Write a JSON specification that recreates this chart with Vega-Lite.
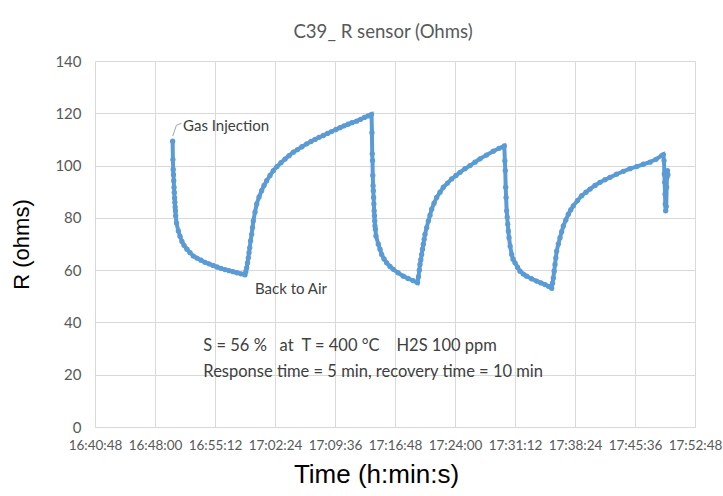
{
  "$schema": "https://vega.github.io/schema/vega-lite/v6.json",
  "width": 600,
  "height": 366,
  "autosize": {"type": "none"},
  "padding": {"left": 95, "top": 61, "right": 28, "bottom": 69},
  "background": "white",
  "title": {"text": "C39_ R sensor (Ohms)", "font": "Lato", "fontSize": 18.6, "fontWeight": "normal", "color": "#595959", "offset": 12, "dx": -12},
  "config": {"view": {"stroke": null}},
  "data": {
    "format": {"parse": {"time": "utc:'%H:%M:%S'"}},
    "values": [
      {"time": "16:50:07", "value": 109.3}, {"time": "16:50:09", "value": 102.3}, {"time": "16:50:11", "value": 98.5}, {"time": "16:50:13", "value": 96.5},
      {"time": "16:50:15", "value": 94.2}, {"time": "16:50:17", "value": 91.7}, {"time": "16:50:19", "value": 89.7}, {"time": "16:50:21", "value": 87.6},
      {"time": "16:50:23", "value": 85.9}, {"time": "16:50:25", "value": 84.2}, {"time": "16:50:27", "value": 82.7}, {"time": "16:50:29", "value": 80.8},
      {"time": "16:50:35", "value": 78}, {"time": "16:50:48", "value": 75}, {"time": "16:51:00", "value": 73}, {"time": "16:51:14", "value": 71},
      {"time": "16:51:29", "value": 69.5}, {"time": "16:51:50", "value": 68}, {"time": "16:52:12", "value": 66.7}, {"time": "16:52:36", "value": 65.4},
      {"time": "16:53:02", "value": 64.6}, {"time": "16:53:31", "value": 63.8}, {"time": "16:54:00", "value": 63}, {"time": "16:54:29", "value": 62.4},
      {"time": "16:54:58", "value": 61.8}, {"time": "16:55:26", "value": 61.2}, {"time": "16:55:55", "value": 60.7}, {"time": "16:56:24", "value": 60.2},
      {"time": "16:56:53", "value": 59.8}, {"time": "16:57:22", "value": 59.4}, {"time": "16:57:50", "value": 59}, {"time": "16:58:19", "value": 58.6},
      {"time": "16:58:48", "value": 58.2},
      {"time": "16:58:54", "value": 59.5}, {"time": "16:59:00", "value": 60.9}, {"time": "16:59:06", "value": 62.8}, {"time": "16:59:12", "value": 64.7},
      {"time": "16:59:17", "value": 66.7}, {"time": "16:59:22", "value": 68.6}, {"time": "16:59:28", "value": 71.2}, {"time": "16:59:36", "value": 73.7},
      {"time": "16:59:42", "value": 76.3}, {"time": "16:59:48", "value": 78.8}, {"time": "17:00:00", "value": 82.2}, {"time": "17:00:12", "value": 85.3},
      {"time": "17:00:29", "value": 88}, {"time": "17:00:48", "value": 90.4}, {"time": "17:01:05", "value": 92.4}, {"time": "17:01:24", "value": 94.2},
      {"time": "17:01:48", "value": 96.2}, {"time": "17:02:12", "value": 98.1}, {"time": "17:02:38", "value": 99.6}, {"time": "17:03:07", "value": 101.1},
      {"time": "17:03:36", "value": 102.5}, {"time": "17:04:05", "value": 103.8}, {"time": "17:04:36", "value": 105.1}, {"time": "17:05:06", "value": 106.1},
      {"time": "17:05:38", "value": 107.2}, {"time": "17:06:12", "value": 108.3}, {"time": "17:06:43", "value": 109.2}, {"time": "17:07:12", "value": 110},
      {"time": "17:07:41", "value": 110.8}, {"time": "17:08:12", "value": 111.5}, {"time": "17:08:42", "value": 112.3}, {"time": "17:09:11", "value": 113},
      {"time": "17:09:43", "value": 113.8}, {"time": "17:10:12", "value": 114.5}, {"time": "17:10:41", "value": 115.2}, {"time": "17:11:10", "value": 115.8},
      {"time": "17:11:38", "value": 116.4}, {"time": "17:12:12", "value": 117}, {"time": "17:12:40", "value": 117.7}, {"time": "17:13:08", "value": 118.4},
      {"time": "17:13:34", "value": 119}, {"time": "17:13:59", "value": 119.6},
      {"time": "17:14:02", "value": 112.6}, {"time": "17:14:04", "value": 104.5}, {"time": "17:14:06", "value": 101.9}, {"time": "17:14:08", "value": 96.2},
      {"time": "17:14:10", "value": 92.3}, {"time": "17:14:12", "value": 90.4}, {"time": "17:14:14", "value": 87.8}, {"time": "17:14:16", "value": 85.3},
      {"time": "17:14:18", "value": 82.7}, {"time": "17:14:20", "value": 80.8}, {"time": "17:14:22", "value": 78.8}, {"time": "17:14:24", "value": 76.9},
      {"time": "17:14:27", "value": 75.6}, {"time": "17:14:31", "value": 73.1},
      {"time": "17:14:48", "value": 69.9}, {"time": "17:15:00", "value": 68}, {"time": "17:15:12", "value": 66}, {"time": "17:15:29", "value": 64.3},
      {"time": "17:15:48", "value": 62.8}, {"time": "17:16:12", "value": 61.4}, {"time": "17:16:36", "value": 60.3}, {"time": "17:17:10", "value": 59},
      {"time": "17:17:48", "value": 57.7}, {"time": "17:18:22", "value": 56.8}, {"time": "17:18:58", "value": 56}, {"time": "17:19:30", "value": 55.2},
      {"time": "17:19:37", "value": 57.5}, {"time": "17:19:43", "value": 60}, {"time": "17:19:48", "value": 62.2}, {"time": "17:19:54", "value": 64},
      {"time": "17:20:00", "value": 66}, {"time": "17:20:06", "value": 68}, {"time": "17:20:12", "value": 69.9}, {"time": "17:20:18", "value": 71.8},
      {"time": "17:20:24", "value": 73.7}, {"time": "17:20:36", "value": 76.3}, {"time": "17:20:48", "value": 78.8}, {"time": "17:21:00", "value": 81},
      {"time": "17:21:12", "value": 83.3}, {"time": "17:21:29", "value": 85.6}, {"time": "17:21:48", "value": 87.8}, {"time": "17:22:12", "value": 89.8},
      {"time": "17:22:36", "value": 91.7}, {"time": "17:23:06", "value": 93.3}, {"time": "17:23:36", "value": 94.9}, {"time": "17:24:07", "value": 96.2},
      {"time": "17:24:36", "value": 97.4}, {"time": "17:25:12", "value": 98.8}, {"time": "17:25:48", "value": 100}, {"time": "17:26:24", "value": 101.3},
      {"time": "17:27:00", "value": 102.6}, {"time": "17:27:47", "value": 104}, {"time": "17:28:36", "value": 105.5}, {"time": "17:29:17", "value": 106.6},
      {"time": "17:29:55", "value": 107.5},
      {"time": "17:29:59", "value": 101.8}, {"time": "17:30:02", "value": 98.1}, {"time": "17:30:05", "value": 91.7}, {"time": "17:30:08", "value": 87.8},
      {"time": "17:30:12", "value": 82.7}, {"time": "17:30:16", "value": 80.3}, {"time": "17:30:20", "value": 77.6}, {"time": "17:30:24", "value": 75},
      {"time": "17:30:29", "value": 72.4}, {"time": "17:30:37", "value": 69.2}, {"time": "17:30:48", "value": 66},
      {"time": "17:30:58", "value": 64.2}, {"time": "17:31:12", "value": 62.8}, {"time": "17:31:30", "value": 61.1}, {"time": "17:31:48", "value": 59.6},
      {"time": "17:32:12", "value": 58.5}, {"time": "17:32:36", "value": 57.7}, {"time": "17:33:11", "value": 56.7}, {"time": "17:33:48", "value": 55.8},
      {"time": "17:34:19", "value": 55.1}, {"time": "17:34:48", "value": 54.5}, {"time": "17:35:13", "value": 53.8}, {"time": "17:35:36", "value": 53.1},
      {"time": "17:35:42", "value": 55}, {"time": "17:35:48", "value": 57}, {"time": "17:35:54", "value": 59.6}, {"time": "17:36:00", "value": 62.2},
      {"time": "17:36:06", "value": 64.7}, {"time": "17:36:12", "value": 67.3}, {"time": "17:36:24", "value": 70}, {"time": "17:36:36", "value": 72.4},
      {"time": "17:36:48", "value": 74.7}, {"time": "17:37:00", "value": 76.9}, {"time": "17:37:18", "value": 79.2}, {"time": "17:37:36", "value": 81.4},
      {"time": "17:37:54", "value": 83.1}, {"time": "17:38:12", "value": 84.6}, {"time": "17:38:42", "value": 86.6}, {"time": "17:39:12", "value": 88.5},
      {"time": "17:39:43", "value": 89.8}, {"time": "17:40:12", "value": 91}, {"time": "17:40:48", "value": 92.4}, {"time": "17:41:24", "value": 93.6},
      {"time": "17:42:00", "value": 94.6}, {"time": "17:42:36", "value": 95.5}, {"time": "17:43:23", "value": 96.7}, {"time": "17:44:12", "value": 97.8},
      {"time": "17:45:00", "value": 98.8}, {"time": "17:45:48", "value": 99.6}, {"time": "17:46:36", "value": 100.5}, {"time": "17:47:24", "value": 101.3},
      {"time": "17:48:07", "value": 102.4}, {"time": "17:48:48", "value": 103.8},
      {"time": "17:49:00", "value": 104.2}, {"time": "17:49:05", "value": 101.9}, {"time": "17:49:07", "value": 96.8}, {"time": "17:49:10", "value": 93.6},
      {"time": "17:49:12", "value": 89.1}, {"time": "17:49:14", "value": 85.3}, {"time": "17:49:17", "value": 82.7}, {"time": "17:49:21", "value": 84.3},
      {"time": "17:49:24", "value": 91.7}, {"time": "17:49:26", "value": 95.5}, {"time": "17:49:30", "value": 98.1}, {"time": "17:49:33", "value": 96.5}
    ]
  },
  "encoding": {
    "x": {
      "field": "time", "type": "temporal",
      "scale": {"type": "utc", "domain": [
        {"year": 1900, "month": 1, "date": 1, "hours": 16, "minutes": 40, "seconds": 48, "utc": true},
        {"year": 1900, "month": 1, "date": 1, "hours": 17, "minutes": 52, "seconds": 48, "utc": true}
      ]},
      "axis": {
        "title": "Time (h:min:s)",
        "format": "%H:%M:%S",
        "values": [
          {"year": 1900, "month": 1, "date": 1, "hours": 16, "minutes": 40, "seconds": 48, "utc": true},
          {"year": 1900, "month": 1, "date": 1, "hours": 16, "minutes": 48, "seconds": 0, "utc": true},
          {"year": 1900, "month": 1, "date": 1, "hours": 16, "minutes": 55, "seconds": 12, "utc": true},
          {"year": 1900, "month": 1, "date": 1, "hours": 17, "minutes": 2, "seconds": 24, "utc": true},
          {"year": 1900, "month": 1, "date": 1, "hours": 17, "minutes": 9, "seconds": 36, "utc": true},
          {"year": 1900, "month": 1, "date": 1, "hours": 17, "minutes": 16, "seconds": 48, "utc": true},
          {"year": 1900, "month": 1, "date": 1, "hours": 17, "minutes": 24, "seconds": 0, "utc": true},
          {"year": 1900, "month": 1, "date": 1, "hours": 17, "minutes": 31, "seconds": 12, "utc": true},
          {"year": 1900, "month": 1, "date": 1, "hours": 17, "minutes": 38, "seconds": 24, "utc": true},
          {"year": 1900, "month": 1, "date": 1, "hours": 17, "minutes": 45, "seconds": 36, "utc": true},
          {"year": 1900, "month": 1, "date": 1, "hours": 17, "minutes": 52, "seconds": 48, "utc": true}
        ],
        "labelFont": "Lato", "labelFontSize": 13.5, "labelColor": "#595959", "labelPadding": 11,
        "labelOverlap": false, "labelFlush": false,
        "ticks": false, "tickSize": 0,
        "domain": true, "domainColor": "#d9d9d9",
        "grid": true, "gridColor": "#d9d9d9",
        "titleFont": "Liberation Sans", "titleFontSize": 26, "titleFontWeight": "normal", "titleColor": "#000000", "titlePadding": 10,
        "titleX": 281
      }
    },
    "y": {
      "field": "value", "type": "quantitative",
      "scale": {"domain": [0, 140], "nice": false},
      "axis": {
        "title": "R (ohms)",
        "values": [0, 20, 40, 60, 80, 100, 120, 140],
        "labelFont": "Lato", "labelFontSize": 15, "labelColor": "#595959", "labelPadding": 14,
        "ticks": false, "tickSize": 0, "domain": false,
        "grid": true, "gridColor": "#d9d9d9",
        "titleFont": "Liberation Sans", "titleFontSize": 22, "titleFontWeight": "normal", "titleColor": "#000000", "titlePadding": 21
      }
    }
  },
  "layer": [
    {"mark": {"type": "line", "color": "#5b9bd5", "strokeWidth": 4}},
    {"mark": {"type": "point", "filled": true, "size": 28, "color": "#5b9bd5", "opacity": 1}},
    {
      "data": {
        "format": {"parse": {"time": "utc:'%H:%M:%S'"}},
        "values": [
          {"time": "16:50:08", "value": 111.3},
          {"time": "16:50:34", "value": 115.4},
          {"time": "16:51:10", "value": 116.2}
        ]
      },
      "mark": {"type": "line", "color": "#a6a6a6", "strokeWidth": 1}
    },
    {
      "data": {
        "format": {"parse": {"time": "utc:'%H:%M:%S'"}},
        "values": [
          {"time": "16:51:22", "value": 115.2, "label": "Gas Injection"},
          {"time": "17:00:00", "value": 52.7, "label": "Back to Air"}
        ]
      },
      "mark": {"type": "text", "align": "left", "baseline": "middle", "font": "Lato", "fontSize": 15, "color": "#404040"},
      "encoding": {"text": {"field": "label", "type": "nominal"}}
    },
    {
      "data": {
        "format": {"parse": {"time": "utc:'%H:%M:%S'"}},
        "values": [
          {"time": "16:53:48", "value": 30.8, "label": "S = 56 %\u00a0\u00a0 at\u00a0 T = 400 °C\u00a0\u00a0\u00a0 H2S 100 ppm"},
          {"time": "16:53:48", "value": 21.2, "label": "Response time = 5 min, recovery time = 10 min"}
        ]
      },
      "mark": {"type": "text", "align": "left", "baseline": "middle", "font": "Lato", "fontSize": 16.5, "color": "#404040"},
      "encoding": {"text": {"field": "label", "type": "nominal"}}
    }
  ]
}
